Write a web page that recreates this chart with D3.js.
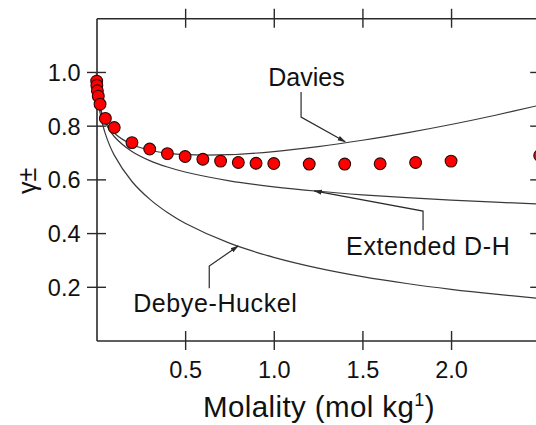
<!DOCTYPE html>
<html>
<head>
<meta charset="utf-8">
<script src="https://cdn.jsdelivr.net/npm/d3@7"></script>
<style>
  html, body { margin: 0; padding: 0; background: #fff; }
  svg { display: block; }
  text { font-family: "Liberation Sans", Arial, sans-serif; fill: #111; }
</style>
</head>
<body>
<svg id="chart" width="536" height="425"></svg>
<script>
// ---- data ----
const molality = [0.001, 0.002, 0.005, 0.01, 0.02, 0.05, 0.1, 0.2, 0.3, 0.4, 0.5, 0.6, 0.7, 0.8, 0.9, 1.0, 1.2, 1.4, 1.6, 1.8, 2.0, 2.5];
const gammaMeasured = [0.966, 0.950, 0.930, 0.910, 0.880, 0.827, 0.793, 0.737, 0.713, 0.696, 0.685, 0.675, 0.668, 0.663, 0.660, 0.659, 0.657, 0.657, 0.658, 0.663, 0.668, 0.689];

const curveMolality = [0, 0.001, 0.005, 0.01, 0.02, 0.05, 0.1, 0.2, 0.3, 0.4, 0.5, 0.75, 1.0, 1.25, 1.5, 1.75, 2.0, 2.25, 2.5];
const debyeHuckel = [1, 0.9636, 0.9205, 0.8894, 0.8473, 0.7694, 0.6903, 0.5921, 0.5263, 0.4765, 0.4366, 0.3624, 0.3098, 0.2697, 0.2380, 0.2122, 0.1906, 0.1724, 0.1567];
const extendedDH = [1, 0.9648, 0.9260, 0.8998, 0.8664, 0.8103, 0.7596, 0.7038, 0.6699, 0.6459, 0.6274, 0.5947, 0.5723, 0.5557, 0.5425, 0.5318, 0.5228, 0.5151, 0.5084];
const davies = [1, 0.9649, 0.9266, 0.9010, 0.8689, 0.8167, 0.7725, 0.7296, 0.7086, 0.6975, 0.6919, 0.6919, 0.7036, 0.7221, 0.7456, 0.7732, 0.8043, 0.8388, 0.8764];

const xTicks = [0.5, 1.0, 1.5, 2.0];
const yTicks = [0.2, 0.4, 0.6, 0.8, 1.0];
const xTickLabels = ["0.5", "1.0", "1.5", "2.0"];
const yTickLabels = ["0.2", "0.4", "0.6", "0.8", "1.0"];

// annotations: label + leader path in data coordinates
const annoLabels = ["Davies", "Extended D-H", "Debye-Huckel"];
const annoLabelPos = [[0.969, 0.947], [1.408, 0.318], [0.207, 0.106]];
const annoLeaders = [
  [[1.154, 0.925], [1.154, 0.832], [1.403, 0.740]],
  [[1.842, 0.411], [1.842, 0.482], [1.228, 0.557]],
  [[0.636, 0.195], [0.636, 0.277], [0.799, 0.352]]
];

// ---- chart ----
const svg = d3.select("#chart");
const x = d3.scaleLinear().domain([0, 2.5]).range([96.5, 539.7]);
const y = d3.scaleLinear().domain([0, 1.2]).range([340.5, 18.25]);

const axisColor = "#2a2a2a";
function styleAxis(g, crossAttr) {
  g.select(".domain").attr("stroke", axisColor).attr("stroke-width", 1.6);
  g.selectAll(".tick line").attr("stroke", axisColor).attr("stroke-width", 1.4)
    .attr(crossAttr + "1", -9.5).attr(crossAttr + "2", 9.5);
}

// bottom axis
const gx = svg.append("g").attr("transform", `translate(0,${y(0)})`)
  .call(d3.axisBottom(x).tickValues(xTicks).tickSizeOuter(0)
    .tickFormat((d, i) => xTickLabels[i]).tickPadding(12));
styleAxis(gx, "y");
gx.selectAll(".tick text").attr("font-size", 23.5).attr("fill", "#111")
  .attr("y", 21).attr("dy", "0.71em");

// top axis
const gt = svg.append("g").attr("transform", `translate(0,${y(1.2)})`)
  .call(d3.axisTop(x).tickValues(xTicks).tickSizeOuter(0).tickFormat(""));
styleAxis(gt, "y");

// left axis
const gy = svg.append("g").attr("transform", `translate(${x(0)},0)`)
  .call(d3.axisLeft(y).tickValues(yTicks).tickSizeOuter(0)
    .tickFormat((d, i) => yTickLabels[i]));
styleAxis(gy, "x");
gy.selectAll(".tick text").attr("font-size", 23.5).attr("fill", "#111")
  .attr("x", -16).attr("dy", "0.36em");

// right axis
const gr = svg.append("g").attr("transform", `translate(${x(2.5)},0)`)
  .call(d3.axisRight(y).tickValues(yTicks).tickSizeOuter(0).tickFormat(""));
styleAxis(gr, "x");

// model curves
const line = d3.line()
  .x((d, i) => x(curveMolality[i]))
  .y(d => y(d))
  .curve(d3.curveCatmullRom.alpha(0.5));

[debyeHuckel, extendedDH, davies].forEach(series => {
  svg.append("path").datum(series)
    .attr("d", line)
    .attr("fill", "none")
    .attr("stroke", "#3a3a3a")
    .attr("stroke-width", 1.2);
});

// leaders with small arrowheads
svg.append("defs").append("marker")
  .attr("id", "arr").attr("viewBox", "0 0 10 10")
  .attr("refX", 9).attr("refY", 5)
  .attr("markerWidth", 7).attr("markerHeight", 7)
  .attr("orient", "auto")
  .append("path").attr("d", "M0,2 L10,5 L0,8 Z").attr("fill", "#2a2a2a");

const leaderLine = d3.line().x(d => x(d[0])).y(d => y(d[1]));
annoLeaders.forEach(pts => {
  svg.append("path").datum(pts)
    .attr("d", leaderLine)
    .attr("fill", "none")
    .attr("stroke", "#2a2a2a")
    .attr("stroke-width", 1.2)
    .attr("marker-end", "url(#arr)");
});

annoLabels.forEach((t, i) => {
  svg.append("text")
    .attr("x", x(annoLabelPos[i][0]))
    .attr("y", y(annoLabelPos[i][1]))
    .attr("font-size", 25)
    .attr("letter-spacing", i === 0 ? 0 : 0.6)
    .text(t);
});

// measured points
svg.append("g").selectAll("circle")
  .data(molality)
  .join("circle")
  .attr("cx", d => x(d))
  .attr("cy", (d, i) => y(gammaMeasured[i]))
  .attr("r", 5.9)
  .attr("fill", "#ff0000")
  .attr("stroke", "#2a0808")
  .attr("stroke-width", 1.1);

// axis titles
const xt = svg.append("text")
  .attr("x", 319).attr("y", 417)
  .attr("text-anchor", "middle")
  .attr("font-size", 29.5)
  .attr("letter-spacing", 0.4);
xt.append("tspan").text("Molality (mol kg");
xt.append("tspan").attr("font-size", 18).attr("dy", -11).text("1");
xt.append("tspan").attr("dy", 11).text(")");

svg.append("text")
  .attr("transform", "translate(36,181) rotate(-90)")
  .attr("text-anchor", "middle")
  .attr("font-size", 25)
  .text("γ±");
</script>
</body>
</html>
